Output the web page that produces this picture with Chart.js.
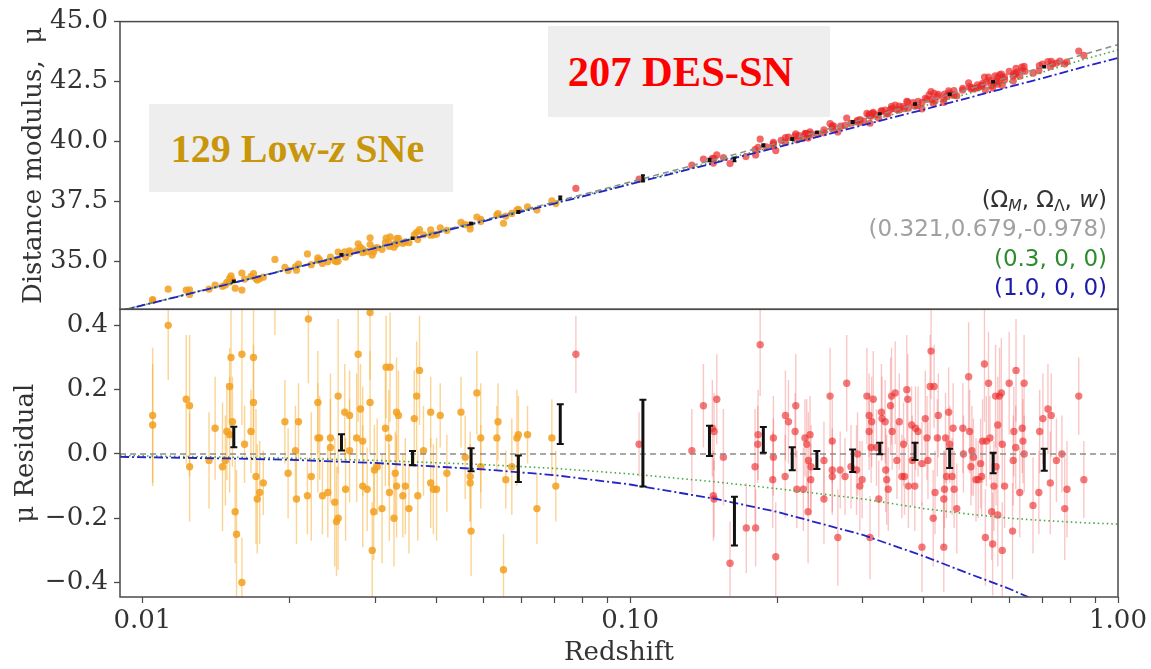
<!DOCTYPE html>
<html>
<head>
<meta charset="utf-8">
<script src="https://cdn.jsdelivr.net/npm/chart.js@4.4.1/dist/chart.umd.min.js"></script>
<style>
  html, body { margin: 0; padding: 0; background: #fff; }
  #wrap { position: relative; width: 1151px; height: 669px; overflow: hidden; }
  #hubble { position: absolute; left: 0; top: 0; }
  .tag { position: absolute; background: #eeeeee; display: flex; align-items: center; justify-content: center;
         font-family: "Liberation Serif", "Times New Roman", serif; font-weight: bold; white-space: nowrap; box-sizing: border-box; }
  #lowzTag { left: 149px; top: 104px; width: 304px; height: 88px; color: #c8960a; font-size: 40px; padding-right: 7px; }
  #desTag { left: 548px; top: 26px; width: 282px; height: 91px; color: #ff0000; font-size: 42.5px; padding-right: 17px; }
  #models { position: absolute; right: 44px; top: 185px; text-align: right;
            font-family: "DejaVu Sans", sans-serif; font-size: 23px; line-height: 29.3px; }
  #models sub { font-size: 0.68em; line-height: 0; vertical-align: -0.28em; }
</style>
</head>
<body>
<div id="wrap">
  <canvas id="hubble" width="1151" height="669"></canvas>
  <div class="tag" id="lowzTag"><span>129 Low-<i>z</i> SNe</span></div>
  <div class="tag" id="desTag"><span>207 DES-SN</span></div>
  <div id="models">
    <div style="color:#333">(Ω<sub><i>M</i></sub>, Ω<sub>Λ</sub>, <i>w</i>)</div>
    <div style="color:#a0a0a0">(0.321,0.679,-0.978)</div>
    <div style="color:#2e8b2e">(0.3, 0, 0)</div>
    <div style="color:#1c1ca8">(1.0, 0, 0)</div>
  </div>
</div>
<script>
// axis ticks
const xTicks = [0.01, 0.02, 0.03, 0.04, 0.05, 0.06, 0.07, 0.08, 0.09, 0.1, 0.2, 0.3, 0.4, 0.5, 0.6, 0.7, 0.8, 0.9, 1.0];
const xLabeled = [0.01, 0.1, 1.0];
const muTicks = [35.0, 37.5, 40.0, 42.5, 45.0];
const resTicks = [-0.4, -0.2, 0.0, 0.2, 0.4];

// top panel: [z, mu]
const lowzTop = [[0.0105,33.40],[0.0105,33.37],[0.0113,33.84],[0.0123,33.80],[0.0125,33.62],[0.0125,33.81],[0.0137,33.84],
  [0.0141,34.01],[0.0146,33.96],[0.0148,34.01],[0.0149,34.12],[0.0151,34.14],[0.0151,34.29],[0.0152,34.39],[0.0153,34.21],
  [0.0155,33.88],[0.0160,33.80],[0.0160,34.51],[0.0162,34.26],[0.0167,34.37],[0.0169,34.49],[0.0171,34.28],[0.0172,34.22],
  [0.0174,34.27],[0.0177,34.34],[0.0187,35.08],[0.0196,34.75],[0.0199,34.62],[0.0206,34.77],[0.0207,34.63],[0.0209,34.89],
  [0.0218,35.31],[0.0222,34.86],[0.0229,35.15],[0.0229,35.04],[0.0231,35.06],[0.0234,34.91],[0.0240,34.98],[0.0243,35.18],
  [0.0248,35.02],[0.0250,34.98],[0.0252,35.39],[0.0252,35.01],[0.0260,35.40],[0.0261,35.17],[0.0266,35.44],[0.0266,35.33],
  [0.0275,35.45],[0.0277,35.73],[0.0280,35.58],[0.0283,35.50],[0.0283,35.36],[0.0289,35.40],[0.0293,35.98],[0.0293,35.70],
  [0.0296,35.26],[0.0298,35.40],[0.0299,35.54],[0.0303,35.57],[0.0310,35.50],[0.0315,35.78],[0.0316,35.97],[0.0320,35.78],
  [0.0321,35.62],[0.0322,36.02],[0.0328,35.59],[0.0330,35.74],[0.0332,35.95],[0.0332,35.72],[0.0335,35.96],[0.0342,35.75],
  [0.0346,35.81],[0.0352,35.78],[0.0361,36.11],[0.0365,36.21],[0.0367,35.91],[0.0370,36.32],[0.0377,36.11],[0.0390,36.31],
  [0.0390,36.09],[0.0395,36.10],[0.0401,36.13],[0.0408,36.40],[0.0421,36.29],[0.0450,36.63],[0.0459,36.53],[0.0470,36.35],
  [0.0470,36.52],[0.0485,36.85],[0.0494,36.66],[0.0494,36.75],[0.0533,36.93],[0.0536,36.99],[0.0550,36.59],[0.0556,36.89],
  [0.0572,37.00],[0.0586,37.14],[0.0590,37.17],[0.0616,37.27],[0.0644,37.14],[0.0691,37.52],[0.0704,37.41]];
const desTop = [[0.0774,38.04],[0.1043,38.43],[0.1338,39.01],[0.1413,39.27],[0.1474,39.30],[0.1481,39.10],[0.1486,39.30],
  [0.1505,39.44],[0.1553,39.33],[0.1602,39.08],[0.1727,39.37],[0.1803,39.66],[0.1808,39.44],[0.1829,39.76],[0.1847,40.10],
  [0.1900,39.78],[0.1960,39.82],[0.1966,39.96],[0.1966,39.90],[0.1988,39.62],[0.2040,40.05],[0.2078,39.97],[0.2081,40.16],
  [0.2111,40.18],[0.2178,40.23],[0.2185,40.32],[0.2196,40.07],[0.2220,40.24],[0.2265,40.15],[0.2282,40.33],[0.2290,40.34],
  [0.2301,40.33],[0.2316,40.14],[0.2319,40.30],[0.2337,40.40],[0.2348,40.31],[0.2420,40.32],[0.2496,40.48],[0.2496,40.36],
  [0.2569,40.75],[0.2596,40.64],[0.2596,40.53],[0.2610,40.65],[0.2665,40.40],[0.2700,40.64],[0.2757,40.67],[0.2779,40.98],
  [0.2836,40.76],[0.2911,40.82],[0.2925,40.88],[0.2957,40.80],[0.2960,40.91],[0.3010,40.85],[0.3057,41.17],[0.3089,41.13],
  [0.3089,41.08],[0.3102,40.76],[0.3118,41.05],[0.3127,41.14],[0.3140,41.17],[0.3150,41.22],[0.3190,41.11],[0.3233,40.98],
  [0.3270,41.28],[0.3283,41.27],[0.3332,41.31],[0.3356,41.15],[0.3380,41.16],[0.3420,41.34],[0.3434,41.47],[0.3444,41.37],
  [0.3494,41.52],[0.3522,41.33],[0.3560,41.31],[0.3562,41.48],[0.3620,41.45],[0.3650,41.37],[0.3690,41.67],[0.3707,41.65],
  [0.3718,41.39],[0.3800,41.62],[0.3833,41.47],[0.3880,41.49],[0.3892,41.67],[0.3964,41.36],[0.3964,41.62],[0.4027,41.80],
  [0.4060,41.76],[0.4100,41.94],[0.4138,42.08],[0.4150,41.75],[0.4180,41.58],[0.4198,42.01],[0.4216,41.69],[0.4263,41.89],
  [0.4282,41.97],[0.4394,41.78],[0.4394,41.63],[0.4410,41.98],[0.4451,41.88],[0.4496,42.11],[0.4518,42.02],[0.4560,41.94],
  [0.4610,42.12],[0.4614,41.93],[0.4672,41.90],[0.4800,42.14],[0.4808,42.22],[0.4941,42.45],[0.4964,42.29],[0.4995,42.20],
  [0.5018,42.25],[0.5050,42.19],[0.5116,42.22],[0.5150,42.36],[0.5171,42.25],[0.5250,42.34],[0.5253,42.30],[0.5277,42.42],
  [0.5324,42.69],[0.5348,42.15],[0.5372,42.47],[0.5427,42.68],[0.5465,42.54],[0.5509,42.32],[0.5534,42.23],[0.5568,42.43],
  [0.5600,42.74],[0.5625,42.52],[0.5670,42.67],[0.5670,42.39],[0.5700,42.50],[0.5718,42.78],[0.5766,42.81],[0.5791,42.67],
  [0.5791,42.34],[0.5850,42.70],[0.5855,42.57],[0.5984,42.92],[0.6098,42.73],[0.6100,42.52],[0.6117,42.83],[0.6171,42.81],
  [0.6180,43.05],[0.6200,42.88],[0.6290,42.72],[0.6350,43.10],[0.6363,42.95],[0.6420,43.13],[0.6450,42.93],[0.6695,42.85],
  [0.6883,42.95],[0.6900,43.16],[0.7000,43.23],[0.7185,43.33],[0.7265,43.12],[0.7297,43.34],[0.7350,43.24],[0.7478,43.27],
  [0.7600,43.35],[0.7777,43.23],[0.7850,43.31],[0.8309,43.77],[0.8512,43.59]];
// binned means, top panel: [z, mu, err]
const binsTop = [[0.0154,34.17,0.03],[0.0256,35.28,0.03],[0.0358,35.96,0.03],[0.0472,36.58,0.03],[0.0590,37.06,0.04],
  [0.0719,37.65,0.06],[0.1062,38.46,0.13],[0.1454,39.23,0.05],[0.1636,39.25,0.08],[0.1875,39.84,0.04],[0.2149,40.10,0.04],
  [0.2414,40.38,0.03],[0.2858,40.81,0.04],[0.3248,41.16,0.02],[0.3836,41.56,0.03],[0.4518,41.97,0.03],[0.5547,42.49,0.03],
  [0.7060,43.12,0.03]];

// bottom panel: [z, residual, err]
const lowzRes = [[0.0105,0.12,0.21],[0.0105,0.09,0.19],[0.0113,0.40,0.17],[0.0123,0.17,0.20],[0.0125,0.15,0.22],
  [0.0125,-0.04,0.17],[0.0137,-0.02,0.15],[0.0141,0.08,0.16],[0.0146,-0.04,0.20],[0.0148,-0.02,0.14],[0.0149,0.07,0.15],
  [0.0151,0.06,0.18],[0.0151,0.21,0.12],[0.0152,0.30,0.25],[0.0153,0.10,0.14],[0.0155,-0.18,0.16],[0.0156,-0.25,0.20],
  [0.0160,-0.40,0.14],[0.0160,0.31,0.22],[0.0162,0.03,0.12],[0.0169,0.30,0.24],[0.0169,0.16,0.18],[0.0167,0.07,0.13],
  [0.0171,-0.07,0.21],[0.0177,-0.09,0.10],[0.0174,-0.12,0.16],[0.0172,-0.14,0.17],[0.0187,0.50,0.13],[0.0196,0.10,0.13],
  [0.0199,-0.06,0.14],[0.0206,0.01,0.14],[0.0209,0.10,0.12],[0.0207,-0.14,0.14],[0.0218,-0.13,0.12],[0.0222,-0.07,0.20],
  [0.0219,0.42,0.20],[0.0229,0.16,0.16],[0.0229,0.05,0.17],[0.0231,0.05,0.13],[0.0243,0.05,0.20],[0.0243,0.02,0.15],
  [0.0234,-0.13,0.12],[0.0240,-0.12,0.14],[0.0248,-0.15,0.20],[0.0250,-0.21,0.17],[0.0252,-0.20,0.16],[0.0252,0.18,0.24],
  [0.0260,0.13,0.15],[0.0261,-0.11,0.16],[0.0266,0.12,0.14],[0.0266,0.01,0.16],[0.0275,0.05,0.20],[0.0277,0.31,0.21],
  [0.0280,0.14,0.14],[0.0283,0.04,0.17],[0.0283,-0.10,0.19],[0.0289,-0.11,0.13],[0.0293,0.16,0.16],[0.0293,0.44,0.21],
  [0.0296,-0.30,0.15],[0.0298,-0.18,0.15],[0.0299,-0.05,0.14],[0.0303,-0.04,0.15],[0.0310,-0.17,0.17],[0.0315,0.08,0.18],
  [0.0316,0.27,0.16],[0.0322,0.27,0.17],[0.0320,0.05,0.15],[0.0321,-0.12,0.15],[0.0328,-0.20,0.15],[0.0330,-0.06,0.13],
  [0.0332,0.13,0.17],[0.0335,0.12,0.14],[0.0332,-0.10,0.16],[0.0342,-0.13,0.13],[0.0346,-0.10,0.15],[0.0352,-0.17,0.14],
  [0.0361,0.11,0.15],[0.0365,0.18,0.17],[0.0370,0.26,0.17],[0.0367,-0.13,0.14],[0.0377,0.01,0.14],[0.0390,0.13,0.11],
  [0.0390,-0.09,0.14],[0.0395,-0.11,0.14],[0.0401,-0.11,0.16],[0.0408,0.12,0.10],[0.0421,-0.06,0.12],[0.0450,0.13,0.11],
  [0.0459,-0.01,0.13],[0.0470,-0.07,0.14],[0.0470,-0.09,0.12],[0.0472,-0.24,0.14],[0.0485,0.19,0.13],[0.0494,0.05,0.17],
  [0.0494,-0.04,0.13],[0.0533,0.05,0.10],[0.0536,0.10,0.12],[0.0556,-0.08,0.09],[0.0550,-0.36,0.11],[0.0572,-0.04,0.15],
  [0.0586,0.05,0.15],[0.0590,0.06,0.12],[0.0616,0.06,0.09],[0.0644,-0.17,0.11],[0.0691,0.05,0.12],[0.0704,-0.10,0.11]];
const desRes = [[0.0774,0.31,0.12],[0.1043,0.03,0.10],[0.1338,0.01,0.13],[0.1413,0.15,0.13],[0.1474,0.08,0.15],
  [0.1486,0.07,0.12],[0.1505,0.17,0.14],[0.1481,-0.13,0.14],[0.1486,-0.14,0.12],[0.1553,-0.01,0.15],[0.1602,-0.34,0.13],
  [0.1730,-0.23,0.14],[0.1808,-0.23,0.12],[0.1847,0.34,0.16],[0.1829,0.06,0.14],[0.1826,0.03,0.12],[0.1803,-0.04,0.18],
  [0.1966,0.05,0.13],[0.1966,-0.01,0.12],[0.1960,-0.08,0.15],[0.1988,-0.32,0.17],[0.2078,-0.07,0.13],[0.2081,0.12,0.14],
  [0.2111,0.10,0.13],[0.2185,0.15,0.16],[0.2178,0.07,0.12],[0.2196,-0.11,0.12],[0.2265,-0.11,0.13],[0.2282,0.05,0.12],
  [0.2301,0.03,0.14],[0.2319,-0.02,0.15],[0.2337,0.06,0.12],[0.2348,-0.04,0.13],[0.2316,-0.18,0.16],[0.2345,-0.08,0.11],
  [0.2496,-0.02,0.12],[0.2496,-0.14,0.14],[0.2569,0.18,0.15],[0.2596,0.04,0.13],[0.2596,-0.05,0.13],[0.2596,-0.07,0.12],
  [0.2665,-0.26,0.15],[0.2695,-0.05,0.12],[0.2757,-0.07,0.12],[0.2779,0.22,0.15],[0.2836,-0.04,0.13],[0.2911,-0.05,0.14],
  [0.2925,-0.00,0.13],[0.2957,-0.10,0.14],[0.2989,-0.08,0.12],[0.3057,0.18,0.15],[0.3089,0.12,0.13],[0.3089,0.07,0.12],
  [0.3118,0.02,0.11],[0.3127,0.10,0.14],[0.3102,-0.26,0.13],[0.3150,0.17,0.15],[0.3198,0.02,0.12],[0.3233,-0.14,0.12],
  [0.3274,0.13,0.15],[0.3283,0.11,0.13],[0.3332,0.10,0.13],[0.3341,-0.05,0.13],[0.3356,-0.08,0.14],[0.3381,-0.11,0.13],
  [0.3418,0.15,0.15],[0.3434,0.18,0.15],[0.3444,0.07,0.12],[0.3494,0.19,0.16],[0.3522,-0.02,0.12],[0.3562,0.10,0.15],
  [0.3605,-0.07,0.13],[0.3634,0.03,0.13],[0.3650,-0.07,0.12],[0.3690,0.20,0.17],[0.3707,0.17,0.14],[0.3718,-0.10,0.13],
  [0.3775,0.09,0.12],[0.3787,-0.02,0.14],[0.3833,-0.10,0.14],[0.3845,0.08,0.13],[0.3892,0.07,0.14],[0.3964,-0.29,0.14],
  [0.3964,-0.03,0.13],[0.4027,0.11,0.15],[0.4060,0.05,0.13],[0.4078,-0.02,0.12],[0.4120,0.21,0.16],[0.4138,0.32,0.15],
  [0.4180,-0.20,0.15],[0.4198,0.21,0.13],[0.4216,-0.12,0.13],[0.4282,0.12,0.13],[0.4263,0.05,0.12],[0.4394,-0.14,0.15],
  [0.4408,-0.11,0.12],[0.4394,-0.29,0.14],[0.4431,0.05,0.14],[0.4451,-0.07,0.13],[0.4496,0.13,0.14],[0.4518,0.03,0.12],
  [0.4570,-0.07,0.12],[0.4592,0.08,0.14],[0.4614,-0.11,0.12],[0.4672,-0.17,0.14],[0.4808,0.08,0.14],[0.4822,0.00,0.12],
  [0.4941,0.24,0.17],[0.4964,0.07,0.13],[0.4995,-0.04,0.12],[0.5018,0.01,0.14],[0.5054,-0.01,0.12],[0.5116,-0.08,0.13],
  [0.5171,-0.08,0.12],[0.5229,-0.03,0.14],[0.5253,-0.07,0.12],[0.5277,0.04,0.13],[0.5324,0.28,0.18],[0.5348,-0.26,0.15],
  [0.5372,0.04,0.14],[0.5427,0.22,0.16],[0.5465,0.05,0.13],[0.5509,-0.18,0.15],[0.5534,-0.28,0.16],[0.5568,-0.10,0.14],
  [0.5611,0.18,0.16],[0.5625,-0.04,0.12],[0.5670,0.09,0.15],[0.5670,-0.19,0.16],[0.5718,0.18,0.15],[0.5766,0.19,0.17],
  [0.5791,0.03,0.14],[0.5791,-0.30,0.15],[0.5855,-0.10,0.13],[0.5984,0.22,0.16],[0.6079,-0.24,0.15],[0.6098,-0.02,0.14],
  [0.6117,0.07,0.14],[0.6171,0.02,0.13],[0.6180,0.26,0.16],[0.6290,-0.12,0.14],[0.6363,0.08,0.14],[0.6385,0.04,0.13],
  [0.6420,0.22,0.15],[0.6424,-0.00,0.12],[0.6695,-0.16,0.15],[0.6883,-0.12,0.13],[0.6910,0.07,0.13],[0.7016,0.11,0.14],
  [0.7185,0.14,0.14],[0.7297,0.12,0.13],[0.7265,-0.09,0.16],[0.7478,-0.02,0.13],[0.7674,0.00,0.12],[0.7777,-0.17,0.16],
  [0.7860,-0.11,0.15],[0.8309,0.18,0.12],[0.8512,-0.08,0.12]];
const binsRes = [[0.0154,0.053,0.032],[0.0256,0.036,0.025],[0.0358,-0.013,0.022],[0.0472,-0.018,0.036],[0.0590,-0.046,0.041],
  [0.0719,0.093,0.062],[0.1062,0.034,0.135],[0.1454,0.041,0.047],[0.1636,-0.209,0.076],[0.1875,0.044,0.040],
  [0.2149,-0.015,0.036],[0.2414,-0.019,0.028],[0.2858,-0.021,0.035],[0.3248,0.017,0.018],[0.3836,0.008,0.027],
  [0.4518,-0.014,0.030],[0.5547,-0.028,0.032],[0.7060,-0.018,0.034]];

// cosmology curves
const curveZ      = [0.009, 0.015, 0.02, 0.03, 0.05, 0.07, 0.1, 0.15, 0.2, 0.3, 0.4, 0.5, 0.6, 0.7, 0.85, 1.0];
const lcdmMu      = [32.94, 34.06, 34.69, 35.58, 36.72, 37.48, 38.31, 39.26, 39.93, 40.93, 41.65, 42.22, 42.70, 43.10, 43.63, 44.04];
const openMu      = [32.94, 34.05, 34.68, 35.56, 36.69, 37.44, 38.25, 39.17, 39.82, 40.79, 41.48, 42.03, 42.50, 42.89, 43.42, 43.82];
const edsMu       = [32.93, 34.05, 34.67, 35.55, 36.67, 37.41, 38.22, 39.12, 39.75, 40.68, 41.33, 41.85, 42.28, 42.64, 43.11, 43.48];
const lcdmRes     = [0, 0, 0, 0, 0, 0, 0, 0, 0, 0, 0, 0, 0, 0, 0, 0];
const openRes     = [-0.005, -0.010, -0.013, -0.020, -0.033, -0.045, -0.062, -0.087, -0.108, -0.140, -0.170, -0.188, -0.200, -0.207, -0.214, -0.218];
const edsRes      = [-0.009, -0.014, -0.018, -0.028, -0.048, -0.066, -0.095, -0.140, -0.180, -0.252, -0.318, -0.375, -0.420, -0.465, -0.520, -0.560];

const PAD_TOP = 16, PAD_RIGHT = 33, Y_AXIS_W = 120, X_AXIS_H = 72;

const toPts = arr => arr.map(p => ({x: p[0], y: p[1]}));
const toLine = (zs, vs) => zs.map((z, i) => ({x: z, y: vs[i]}));

function dots(arr, axis, color, r, extra) {
  return Object.assign({
    data: toPts(arr), yAxisID: axis, showLine: false, pointRadius: r, pointHoverRadius: r,
    pointBackgroundColor: color, pointBorderWidth: 0, order: 3
  }, extra || {});
}
function curve(vals, axis, color, dash, width) {
  return {
    data: toLine(curveZ, vals), yAxisID: axis, showLine: true, pointRadius: 0, borderColor: color,
    borderWidth: width, borderDash: dash, fill: false, order: 2, tension: 0
  };
}
function bins(arr, axis, cap, width) {
  return {
    data: toPts(arr), yAxisID: axis, showLine: false, pointRadius: 0, order: 1,
    errors: arr.map(p => p[2]), errorColor: '#111', errorWidth: width, capSize: cap, capWidth: 2
  };
}

// vertical error bars, drawn just before each dataset's points
const errorBars = {
  id: 'errorBars',
  beforeDatasetDraw(chart, args) {
    const ds = chart.data.datasets[args.index];
    if (!ds.errors) return;
    const xs = chart.scales.x, ys = chart.scales[ds.yAxisID], ca = chart.chartArea;
    const ctx = chart.ctx;
    ctx.save();
    ctx.beginPath();
    ctx.rect(ca.left, ys.top, ca.right - ca.left, ys.bottom - ys.top);
    ctx.clip();
    ctx.strokeStyle = ds.errorColor;
    ds.data.forEach((p, i) => {
      const x = xs.getPixelForValue(p.x);
      const y1 = ys.getPixelForValue(p.y - ds.errors[i]);
      const y2 = ys.getPixelForValue(p.y + ds.errors[i]);
      ctx.lineWidth = ds.errorWidth;
      ctx.beginPath(); ctx.moveTo(x, y1); ctx.lineTo(x, y2); ctx.stroke();
      if (ds.capSize) {
        ctx.lineWidth = ds.capWidth;
        ctx.beginPath();
        ctx.moveTo(x - ds.capSize, y1); ctx.lineTo(x + ds.capSize, y1);
        ctx.moveTo(x - ds.capSize, y2); ctx.lineTo(x + ds.capSize, y2);
        ctx.stroke();
      }
    });
    ctx.restore();
  }
};

// box around each panel
const panelFrames = {
  id: 'panelFrames',
  afterDraw(chart) {
    const {ctx, chartArea} = chart;
    ctx.save();
    ctx.strokeStyle = '#4a4a4a';
    ctx.lineWidth = 1.5;
    ['yMu', 'yRes'].forEach(id => {
      const s = chart.scales[id];
      ctx.strokeRect(chartArea.left, s.top, chartArea.right - chartArea.left, s.bottom - s.top);
    });
    ctx.restore();
  }
};

Chart.defaults.font.family = '"DejaVu Serif", serif';
Chart.defaults.color = '#333';

const tickFont = {size: 26};
const yGrid = {drawOnChartArea: false, tickLength: 6, tickColor: '#4a4a4a', tickWidth: 1.3};

new Chart(document.getElementById('hubble'), {
  type: 'scatter',
  data: {
    datasets: [
      bins(binsTop, 'yMu', 2, 3),
      bins(binsRes, 'yRes', 3.5, 3),
      curve(edsMu, 'yMu', '#2424c8', [9, 3, 2, 3], 1.8),
      curve(openMu, 'yMu', '#45a845', [1.5, 3], 1.6),
      curve(lcdmMu, 'yMu', '#8c8c8c', [6, 4], 1.5),
      curve(edsRes, 'yRes', '#2424c8', [9, 3, 2, 3], 1.8),
      curve(openRes, 'yRes', '#45a845', [1.5, 3], 1.6),
      curve(lcdmRes, 'yRes', '#8c8c8c', [6, 4], 1.5),
      dots(desTop, 'yMu', 'rgba(235,40,40,0.7)', 3.6),
      dots(lowzTop, 'yMu', 'rgba(242,160,30,0.85)', 3.6),
      dots(desRes, 'yRes', 'rgba(235,40,40,0.62)', 3.7,
        {errors: desRes.map(p => p[2]), errorColor: 'rgba(240,70,70,0.3)', errorWidth: 1.4}),
      dots(lowzRes, 'yRes', 'rgba(242,160,30,0.85)', 3.7,
        {errors: lowzRes.map(p => p[2]), errorColor: 'rgba(250,170,40,0.5)', errorWidth: 1.4})
    ]
  },
  options: {
    responsive: false,
    animation: false,
    devicePixelRatio: 1,
    layout: {padding: {top: PAD_TOP, right: PAD_RIGHT, bottom: 0, left: 0}},
    plugins: {legend: {display: false}, tooltip: {enabled: false}},
    scales: {
      x: {
        type: 'logarithmic', position: 'bottom', min: 0.009, max: 1.0,
        afterBuildTicks: s => { s.ticks = xTicks.map(v => ({value: v})); },
        afterFit: s => { s.height = X_AXIS_H; },
        ticks: {
          autoSkip: false, maxRotation: 0, minRotation: 0, padding: 3, font: tickFont, color: '#333',
          callback: v => xLabeled.includes(v) ? v.toFixed(2) : ''
        },
        grid: {drawOnChartArea: false, tickLength: 6, tickColor: '#4a4a4a', tickWidth: 1.2},
        border: {display: false},
        title: {display: true, text: 'Redshift', font: {size: 26}, color: '#333', padding: {top: 0, bottom: 0}}
      },
      yRes: {
        type: 'linear', position: 'left', stack: 'panels', stackWeight: 1,
        min: -0.445, max: 0.45,
        afterBuildTicks: s => { s.ticks = resTicks.map(v => ({value: v})); },
        afterFit: s => { s.width = Y_AXIS_W; },
        ticks: {font: tickFont, color: '#333', padding: 6,
          callback: v => (v < 0 ? '\u2212' : '') + Math.abs(v).toFixed(1)},
        grid: yGrid,
        border: {display: false},
        title: {display: true, text: 'μ Residual', font: {size: 26}, color: '#333', padding: {top: 11, bottom: 0}}
      },
      yMu: {
        type: 'linear', position: 'left', stack: 'panels', stackWeight: 1,
        min: 33.0, max: 45.0,
        afterBuildTicks: s => { s.ticks = muTicks.map(v => ({value: v})); },
        afterFit: s => { s.width = Y_AXIS_W; },
        ticks: {font: tickFont, color: '#333', padding: 6, callback: v => v.toFixed(1)},
        grid: yGrid,
        border: {display: false},
        title: {display: true, text: 'Distance modulus,  μ', font: {size: 26}, color: '#333', padding: {top: 19, bottom: 0}}
      }
    }
  },
  plugins: [errorBars, panelFrames]
});
</script>
</body>
</html>
